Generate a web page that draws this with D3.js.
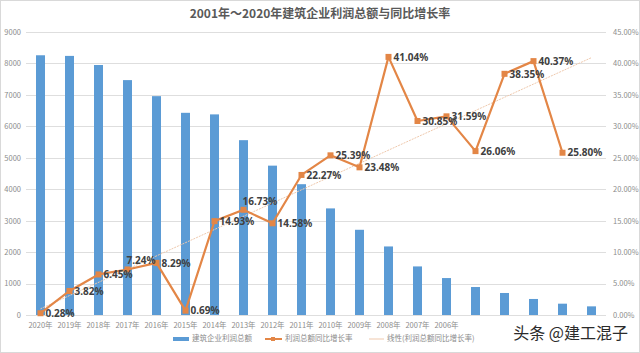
<!DOCTYPE html>
<html>
<head>
<meta charset="utf-8">
<script src="https://cdn.jsdelivr.net/npm/d3@7"></script>
<style>
  html, body { margin: 0; padding: 0; background: #fff; }
  svg { display: block; font-family: "Noto Sans CJK SC", "Noto Sans", sans-serif; }
</style>
</head>
<body>
<svg id="chart" width="640" height="353"></svg>
<script>
// 年份（从左到右）
const years = [2020, 2019, 2018, 2017, 2016, 2015, 2014, 2013, 2012, 2011,
               2010, 2009, 2008, 2007, 2006, 2005, 2004, 2003, 2002, 2001];
// 只有前15个年份有刻度文字
const tickLabels = ["2020年", "2019年", "2018年", "2017年", "2016年", "2015年", "2014年",
                    "2013年", "2012年", "2011年", "2010年", "2009年", "2008年", "2007年", "2006年"];
// 建筑企业利润总额（亿元）
const profit = [8260, 8240, 7950, 7470, 6960, 6430, 6380, 5560, 4750, 4160,
                3390, 2710, 2180, 1545, 1175, 890, 700, 510, 360, 275];
// 利润总额同比增长率（%），2001 无数据
const growth = [0.28, 3.82, 6.45, 7.24, 8.29, 0.69, 14.93, 16.73, 14.58, 22.27,
                25.39, 23.48, 41.04, 30.85, 31.59, 26.06, 38.35, 40.37, 25.80];
const leftTicks = [0, 1000, 2000, 3000, 4000, 5000, 6000, 7000, 8000, 9000];
const rightTicks = [0, 5, 10, 15, 20, 25, 30, 35, 40, 45];
// 个别标签手动挪到上方
const labelAbove = [2017, 2013];

const svg = d3.select("#chart");
const width = 640, height = 353;
const margin = { top: 32, right: 34, bottom: 38, left: 26 };
const innerW = width - margin.left - margin.right;
const innerH = height - margin.top - margin.bottom;

const barColor = "#5B9BD5";
const lineColor = "#E38646";

svg.append("rect")
    .attr("x", 0.5).attr("y", 0.5)
    .attr("width", width - 1).attr("height", height - 1)
    .attr("fill", "#fff").attr("stroke", "#d9d9d9");

// 标题
svg.append("text")
    .attr("x", width / 2)
    .attr("y", 18)
    .attr("text-anchor", "middle")
    .attr("font-size", "12px")
    .attr("font-weight", "bold")
    .attr("fill", "#595959")
    .text("2001年～2020年建筑企业利润总额与同比增长率");

const x = d3.scaleBand().domain(years).range([0, innerW]).paddingInner(0.69).paddingOuter(0.345);
const y = d3.scaleLinear().domain([0, 9000]).range([innerH, 0]);
const y2 = d3.scaleLinear().domain([0, 45]).range([innerH, 0]);
const cx = d => x(d) + x.bandwidth() / 2;

const g = svg.append("g").attr("transform", `translate(${margin.left},${margin.top})`);

// 网格线
g.append("g")
    .selectAll("line")
    .data(leftTicks)
    .enter()
    .append("line")
    .attr("x1", 0).attr("x2", innerW)
    .attr("y1", d => Math.round(y(d)) + 0.5)
    .attr("y2", d => Math.round(y(d)) + 0.5)
    .attr("stroke", "#dedede");

// 坐标轴
const axisL = g.append("g")
    .call(d3.axisLeft(y).tickValues(leftTicks).tickSize(0).tickPadding(5).tickFormat(d3.format("d")));
const axisR = g.append("g")
    .attr("transform", `translate(${innerW},0)`)
    .call(d3.axisRight(y2).tickValues(rightTicks).tickSize(0).tickPadding(7)
        .tickFormat(d => d.toFixed(2) + "%"));
const axisB = g.append("g")
    .attr("transform", `translate(0,${innerH})`)
    .call(d3.axisBottom(x).tickSize(0).tickPadding(8)
        .tickFormat((d, i) => tickLabels[i] || ""));
[axisL, axisR, axisB].forEach(a => {
    a.select(".domain").remove();
    a.selectAll("text")
        .attr("font-size", "7.5px")
        .attr("fill", "#8c8c8c")
        .attr("font-family", "\"Noto Sans CJK SC\", sans-serif");
});

// 柱子
g.append("g")
    .selectAll("rect")
    .data(years)
    .enter()
    .append("rect")
    .attr("x", d => x(d))
    .attr("y", (d, i) => y(profit[i]))
    .attr("width", x.bandwidth())
    .attr("height", (d, i) => innerH - y(profit[i]))
    .attr("fill", barColor);

// 线性趋势线
const n = growth.length;
const xm = d3.mean(d3.range(n));
const ym = d3.mean(growth);
const slope = d3.sum(growth, (v, i) => (i - xm) * (v - ym)) / d3.sum(d3.range(n), i => (i - xm) ** 2);
const trend = i => ym + slope * (i - xm);
g.append("line")
    .attr("x1", cx(years[0]))
    .attr("y1", y2(trend(0)))
    .attr("x2", cx(years[years.length - 1]))
    .attr("y2", y2(trend(years.length - 1)))
    .attr("stroke", "#efc9ad")
    .attr("stroke-width", 1)
    .attr("stroke-dasharray", "2,1");

// 折线
const lineData = growth.map((v, i) => ({ year: years[i], v }));
g.append("path")
    .datum(lineData)
    .attr("fill", "none")
    .attr("stroke", lineColor)
    .attr("stroke-width", 2.2)
    .attr("stroke-linejoin", "round")
    .attr("d", d3.line().x(d => cx(d.year)).y(d => y2(d.v)));

g.append("g")
    .selectAll("rect")
    .data(lineData)
    .enter()
    .append("rect")
    .attr("x", d => cx(d.year) - 3)
    .attr("y", d => y2(d.v) - 3)
    .attr("width", 6)
    .attr("height", 6)
    .attr("fill", lineColor);

// 数据标签
g.append("g")
    .selectAll("text")
    .data(lineData)
    .enter()
    .append("text")
    .attr("x", d => labelAbove.includes(d.year) ? cx(d.year) - 1 : cx(d.year) + 5)
    .attr("y", d => labelAbove.includes(d.year) ? y2(d.v) - 8 : y2(d.v) + 1)
    .attr("dominant-baseline", "middle")
    .attr("font-family", "\"Noto Sans\", sans-serif")
    .attr("font-size", "10px")
    .attr("font-weight", "bold")
    .attr("fill", "#404040")
    .text(d => d.v.toFixed(2) + "%");

// 图例
const legend = svg.append("g").attr("font-size", "7.5px").attr("fill", "#8c8c8c");
legend.append("rect").attr("x", 173).attr("y", 337).attr("width", 16).attr("height", 4).attr("fill", barColor);
legend.append("text").attr("x", 192).attr("y", 339).attr("dominant-baseline", "middle").text("建筑企业利润总额");
legend.append("line").attr("x1", 265).attr("x2", 282).attr("y1", 339).attr("y2", 339)
    .attr("stroke", lineColor).attr("stroke-width", 2);
legend.append("rect").attr("x", 271).attr("y", 337).attr("width", 4).attr("height", 4).attr("fill", lineColor);
legend.append("text").attr("x", 285).attr("y", 339).attr("dominant-baseline", "middle").text("利润总额同比增长率");
legend.append("line").attr("x1", 369).attr("x2", 384).attr("y1", 339).attr("y2", 339)
    .attr("stroke", "#efc9ad").attr("stroke-width", 1);
legend.append("text").attr("x", 387).attr("y", 339).attr("dominant-baseline", "middle").text("线性(利润总额同比增长率)");

// 水印
svg.append("text")
    .attr("x", 628)
    .attr("y", 339)
    .attr("text-anchor", "end")
    .attr("font-size", "16px")
    .attr("fill", "#2b2b2b")
    .attr("stroke", "#fff")
    .attr("stroke-width", 2.5)
    .attr("paint-order", "stroke")
    .text("头条 @建工混子");
</script>
</body>
</html>
